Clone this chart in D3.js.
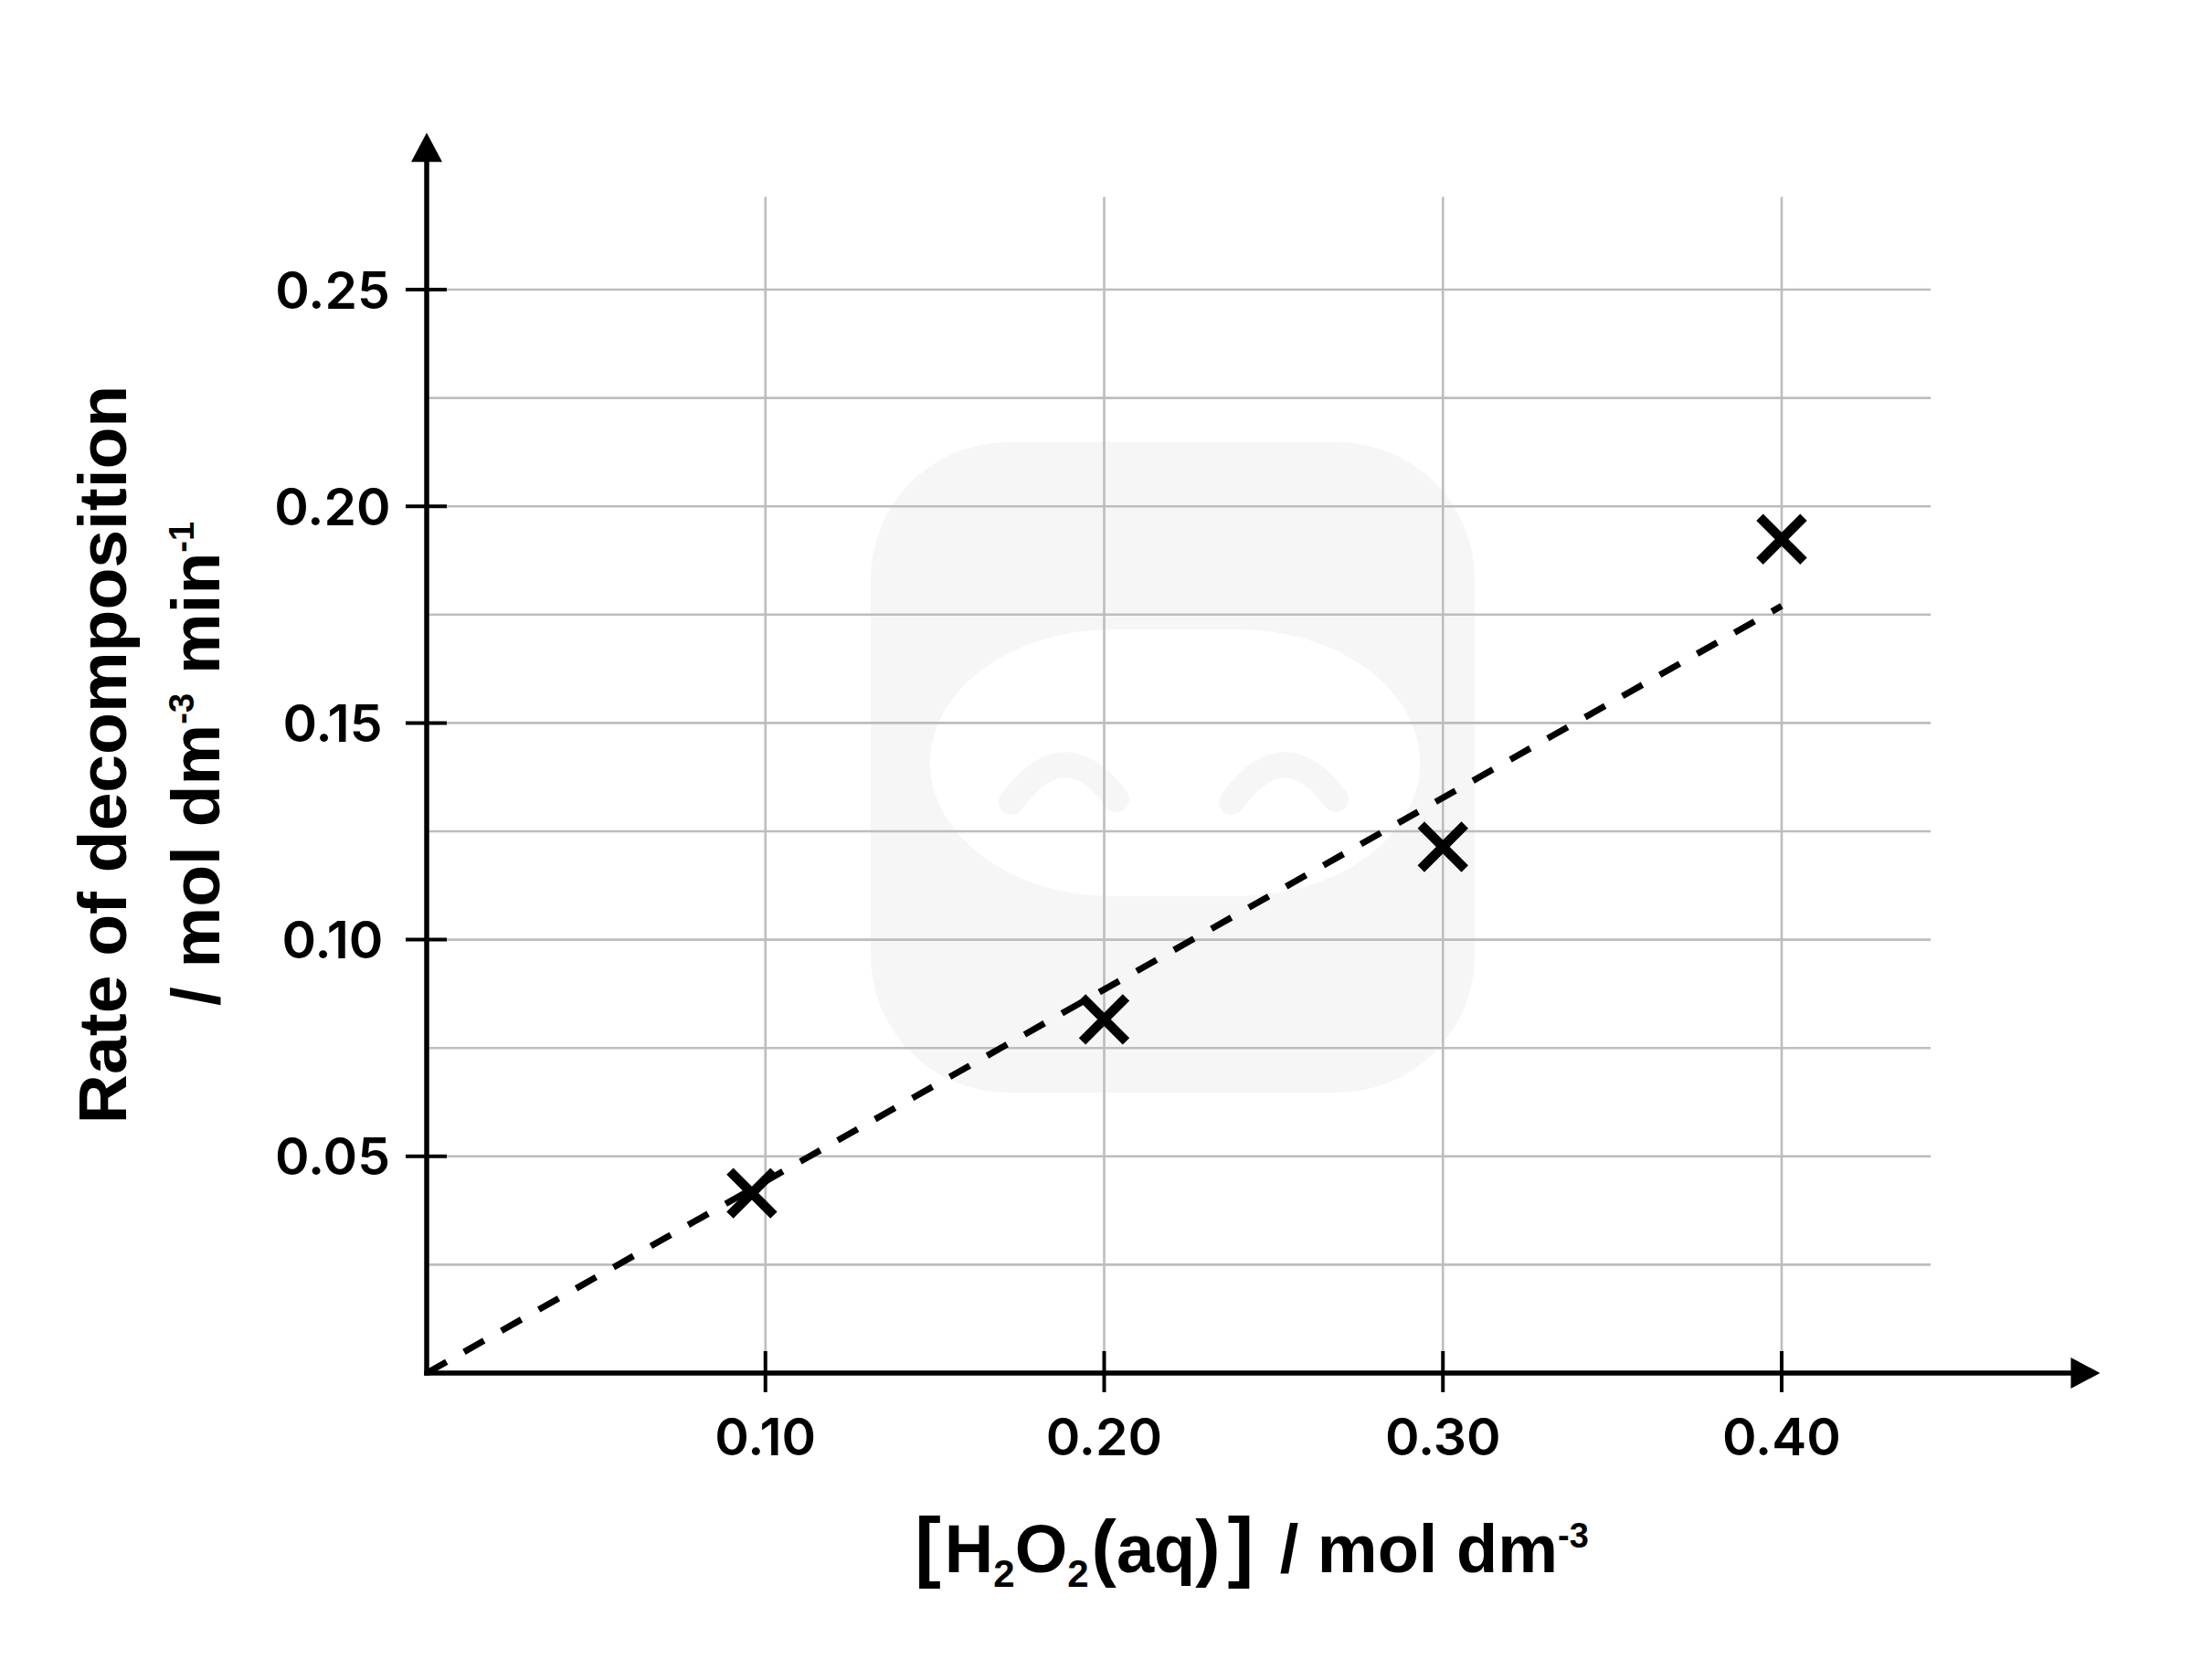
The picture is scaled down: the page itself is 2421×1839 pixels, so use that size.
<!DOCTYPE html>
<html>
<head>
<meta charset="utf-8">
<script src="https://cdn.jsdelivr.net/npm/d3@7"></script>
<style>
  html, body { margin: 0; padding: 0; background: #ffffff; }
  svg { display: block; }
</style>
</head>
<body>
<script>
// ---------- data ----------
const xTickValues = [0.10, 0.20, 0.30, 0.40];
const xTickLabels = ["0.10", "0.20", "0.30", "0.40"];
const yTickValues = [0.05, 0.10, 0.15, 0.20, 0.25];
const yTickLabels = ["0.05", "0.10", "0.15", "0.20", "0.25"];
const yMinorGrid = [0.025, 0.075, 0.125, 0.175, 0.225];
const concentration = [0.096, 0.20, 0.30, 0.40];      // [H2O2(aq)] / mol dm-3
const rateOfDecomposition = [0.0415, 0.0816, 0.1214, 0.1924]; // mol dm-3 min-1
const trendConcentration = [0, 0.40];
const trendRate = [0, 0.177];

// ---------- layout ----------
const W = 2421, H = 1839;
const x = d3.scaleLinear().domain([0, 0.40]).range([467, 1950]);
const y = d3.scaleLinear().domain([0, 0.25]).range([1503, 317]);
const gridXMax = 0.444, gridYMax = 0.2714;
const arrowX = 0.494, arrowY = 0.2862;

const svg = d3.select("body").append("svg")
  .attr("width", W).attr("height", H)
  .attr("viewBox", `0 0 ${W} ${H}`);

svg.append("rect").attr("width", W).attr("height", H).attr("fill", "#fff");

// ---------- watermark (decorative) ----------
const wm = svg.append("g").attr("class", "watermark");
wm.append("rect").attr("x", 953).attr("y", 484).attr("width", 661).attr("height", 712)
  .attr("rx", 150).attr("ry", 150).attr("fill", "#f6f6f6");
wm.append("rect").attr("x", 1018).attr("y", 689).attr("width", 536).attr("height", 292)
  .attr("rx", 200).attr("ry", 146).attr("fill", "#ffffff");
wm.selectAll("path.eye").data([[1107, 1165, 1222], [1348, 1405, 1462]]).join("path")
  .attr("class", "eye")
  .attr("d", d => `M${d[0]},878 Q${d[1]},798 ${d[2]},875`)
  .attr("fill", "none").attr("stroke", "#f6f6f6").attr("stroke-width", 28)
  .attr("stroke-linecap", "round");

// ---------- grid ----------
const grid = svg.append("g").attr("class", "grid")
  .attr("stroke", "#bdbdbd").attr("stroke-width", 2.6);
grid.selectAll("line.h").data(yTickValues.concat(yMinorGrid)).join("line")
  .attr("class", "h")
  .attr("x1", x(0)).attr("x2", x(gridXMax))
  .attr("y1", d => y(d)).attr("y2", d => y(d));
grid.selectAll("line.v").data(xTickValues).join("line")
  .attr("class", "v")
  .attr("x1", d => x(d)).attr("x2", d => x(d))
  .attr("y1", y(gridYMax)).attr("y2", y(0));

// ---------- trend line ----------
const trend = trendConcentration.map((c, i) => [c, trendRate[i]]);
svg.append("path")
  .datum(trend)
  .attr("d", d3.line().x(d => x(d[0])).y(d => y(d[1])))
  .attr("fill", "none").attr("stroke", "#000").attr("stroke-width", 7)
  .attr("stroke-dasharray", "25,22");

// ---------- markers ----------
const pts = concentration.map((c, i) => [c, rateOfDecomposition[i]]);
const m = 24;
svg.append("g").selectAll("path").data(pts).join("path")
  .attr("transform", d => `translate(${x(d[0])},${y(d[1])})`)
  .attr("d", `M${-m},${-m}L${m},${m}M${-m},${m}L${m},${-m}`)
  .attr("fill", "none").attr("stroke", "#000").attr("stroke-width", 10.5);

// ---------- axes ----------
const ax = svg.append("g").attr("class", "axes");
// x axis line + arrow
ax.append("line").attr("x1", x(0) - 2.75).attr("x2", x(arrowX) - 28)
  .attr("y1", y(0)).attr("y2", y(0)).attr("stroke", "#000").attr("stroke-width", 5.5);
ax.append("path")
  .attr("d", `M${x(arrowX)},${y(0)} L${x(arrowX) - 32},${y(0) - 17} L${x(arrowX) - 32},${y(0) + 17} Z`)
  .attr("fill", "#000");
// y axis line + arrow
ax.append("line").attr("x1", x(0)).attr("x2", x(0))
  .attr("y1", y(0) + 2.75).attr("y2", y(arrowY) + 28).attr("stroke", "#000").attr("stroke-width", 5.5);
ax.append("path")
  .attr("d", `M${x(0)},${y(arrowY)} L${x(0) - 17},${y(arrowY) + 32} L${x(0) + 17},${y(arrowY) + 32} Z`)
  .attr("fill", "#000");

// ticks
ax.selectAll("line.xt").data(xTickValues).join("line").attr("class", "xt")
  .attr("x1", d => x(d)).attr("x2", d => x(d))
  .attr("y1", y(0) - 24).attr("y2", y(0) + 21)
  .attr("stroke", "#000").attr("stroke-width", 4);
ax.selectAll("line.yt").data(yTickValues).join("line").attr("class", "yt")
  .attr("x1", x(0) - 23).attr("x2", x(0) + 22)
  .attr("y1", d => y(d)).attr("y2", d => y(d))
  .attr("stroke", "#000").attr("stroke-width", 4);

// tick labels
const tickFont = "Inter, 'Noto Sans', 'DejaVu Sans', sans-serif";
ax.selectAll("text.xl").data(xTickValues).join("text").attr("class", "xl")
  .attr("x", d => x(d)).attr("y", 1593)
  .attr("text-anchor", "middle")
  .attr("font-family", tickFont).attr("font-weight", 600).attr("font-size", 57)
  .attr("fill", "#000")
  .text((d, i) => xTickLabels[i]);
ax.selectAll("text.yl").data(yTickValues).join("text").attr("class", "yl")
  .attr("x", 364).attr("y", d => y(d))
  .attr("dy", "0.36em")
  .attr("text-anchor", "middle")
  .attr("font-family", tickFont).attr("font-weight", 600).attr("font-size", 57)
  .attr("fill", "#000")
  .text((d, i) => yTickLabels[i]);

// ---------- axis titles ----------
const titleFont = "'Liberation Sans', Arial, Helvetica, sans-serif";

// x title
const xt = svg.append("text")
  .attr("x", 1370).attr("y", 1721)
  .attr("text-anchor", "middle")
  .attr("font-family", titleFont).attr("font-weight", 700).attr("font-size", 74)
  .attr("fill", "#000");
xt.append("tspan").attr("font-size", 86).text("[");
xt.append("tspan").attr("dx", 4).text("H");
xt.append("tspan").attr("font-size", 42).attr("dy", 16).text("2");
xt.append("tspan").attr("dy", -16).text("O");
xt.append("tspan").attr("font-size", 42).attr("dy", 16).text("2");
xt.append("tspan").attr("dy", -16).attr("dx", 3).attr("font-size", 82).text("(");
xt.append("tspan").text("aq");
xt.append("tspan").attr("font-size", 82).text(")");
xt.append("tspan").attr("font-size", 86).attr("dx", 8).text("]");
xt.append("tspan").attr("dx", 8).text(" / mol dm");
xt.append("tspan").attr("font-size", 38).attr("dy", -27).text("-3");

// y title
svg.append("text")
  .attr("transform", "translate(138,826) rotate(-90)")
  .attr("text-anchor", "middle")
  .attr("font-family", titleFont).attr("font-weight", 700).attr("font-size", 75)
  .attr("fill", "#000")
  .text("Rate of decomposition");

const yt2 = svg.append("text")
  .attr("transform", "translate(240,836) rotate(-90)")
  .attr("text-anchor", "middle")
  .attr("font-family", titleFont).attr("font-weight", 700).attr("font-size", 75)
  .attr("fill", "#000");
yt2.append("tspan").text("/ mol dm");
yt2.append("tspan").attr("font-size", 38).attr("dy", -28).text("-3");
yt2.append("tspan").attr("dy", 28).text(" min");
yt2.append("tspan").attr("font-size", 38).attr("dy", -28).text("-1");
</script>
</body>
</html>
